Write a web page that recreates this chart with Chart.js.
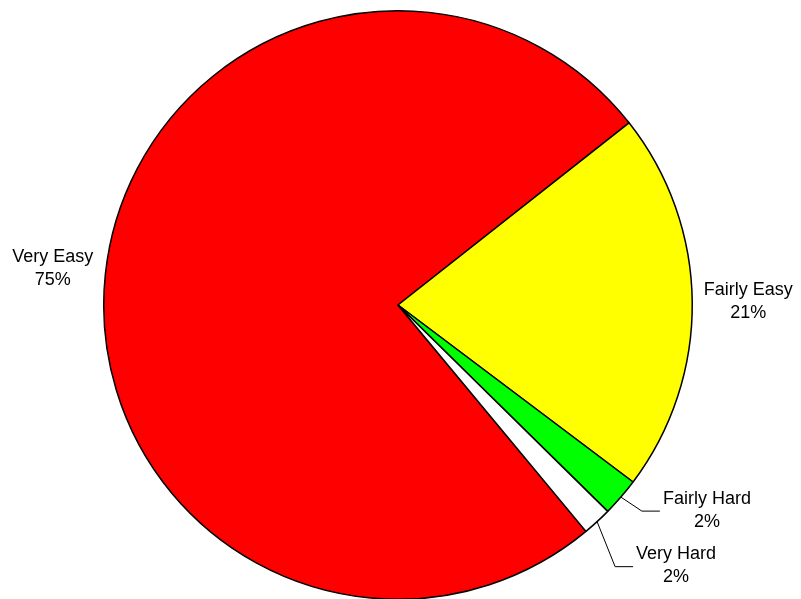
<!DOCTYPE html>
<html>
<head>
<meta charset="utf-8">
<script src="https://cdn.jsdelivr.net/npm/chart.js@4"></script>
<style>
  html, body { margin: 0; padding: 0; background: #fff; overflow: hidden; }
  #wrap { width: 801px; height: 600px; position: relative; }
</style>
</head>
<body>
<div id="wrap"><canvas id="pieChart"></canvas></div>
<script>
const labels = ['Very Easy', 'Fairly Easy', 'Fairly Hard', 'Very Hard'];
const values = [75.4, 20.9, 2.1, 1.6];
const colors = ['#ff0000', '#ffff00', '#00ff00', '#ffffff'];

// where each label sits: 'out' = along the slice middle, 'leader' = elbow line
const labelPlacement = [
    { mode: 'out', dist: 53 },
    { mode: 'out', dist: 56 },
    { mode: 'leader', dx: 21, dy: 14 },
    { mode: 'leader', dx: 18, dy: 45 }
];

const pieLabels = {
    id: 'pieLabels',
    afterDraw(chart) {
        const ctx = chart.ctx;
        const meta = chart.getDatasetMeta(0);
        const total = values.reduce((a, b) => a + b, 0);
        ctx.save();
        ctx.font = '18px "Liberation Sans", Arial, sans-serif';
        ctx.fillStyle = '#000';
        ctx.textBaseline = 'middle';
        ctx.textAlign = 'center';
        meta.data.forEach((arc, i) => {
            const p = arc.getProps(['x', 'y', 'startAngle', 'endAngle', 'outerRadius'], true);
            const mid = (p.startAngle + p.endAngle) / 2;
            const lines = [labels[i], Math.round(values[i] / total * 100) + '%'];
            const place = labelPlacement[i];
            let cx, cy;
            if (place.mode === 'out') {
                const r = p.outerRadius + place.dist;
                cx = p.x + Math.cos(mid) * r;
                cy = p.y + Math.sin(mid) * r;
            } else {
                const rx = p.x + Math.cos(mid) * p.outerRadius;
                const ry = p.y + Math.sin(mid) * p.outerRadius;
                const ex = rx + place.dx;
                const ey = ry + place.dy;
                ctx.beginPath();
                ctx.strokeStyle = '#000';
                ctx.lineWidth = 1;
                ctx.moveTo(rx, ry);
                ctx.lineTo(ex, ey);
                ctx.lineTo(ex + 18, ey);
                ctx.stroke();
                const w = Math.max(...lines.map(t => ctx.measureText(t).width));
                cx = ex + 21 + w / 2;
                cy = ey - 1;
            }
            ctx.fillText(lines[0], cx, cy - 11.5);
            ctx.fillText(lines[1], cx, cy + 11.5);
        });
        ctx.restore();
    }
};

new Chart(document.getElementById('pieChart'), {
    type: 'pie',
    data: {
        labels: labels,
        datasets: [{
            data: values,
            backgroundColor: colors,
            borderColor: '#000',
            borderWidth: 1.5
        }]
    },
    options: {
        responsive: true,
        maintainAspectRatio: false,
        animation: false,
        rotation: 140.3,
        layout: { padding: { top: 10, bottom: 0, left: 0, right: 5 } },
        plugins: {
            legend: { display: false },
            tooltip: { enabled: false }
        }
    },
    plugins: [pieLabels]
});
</script>
</body>
</html>
